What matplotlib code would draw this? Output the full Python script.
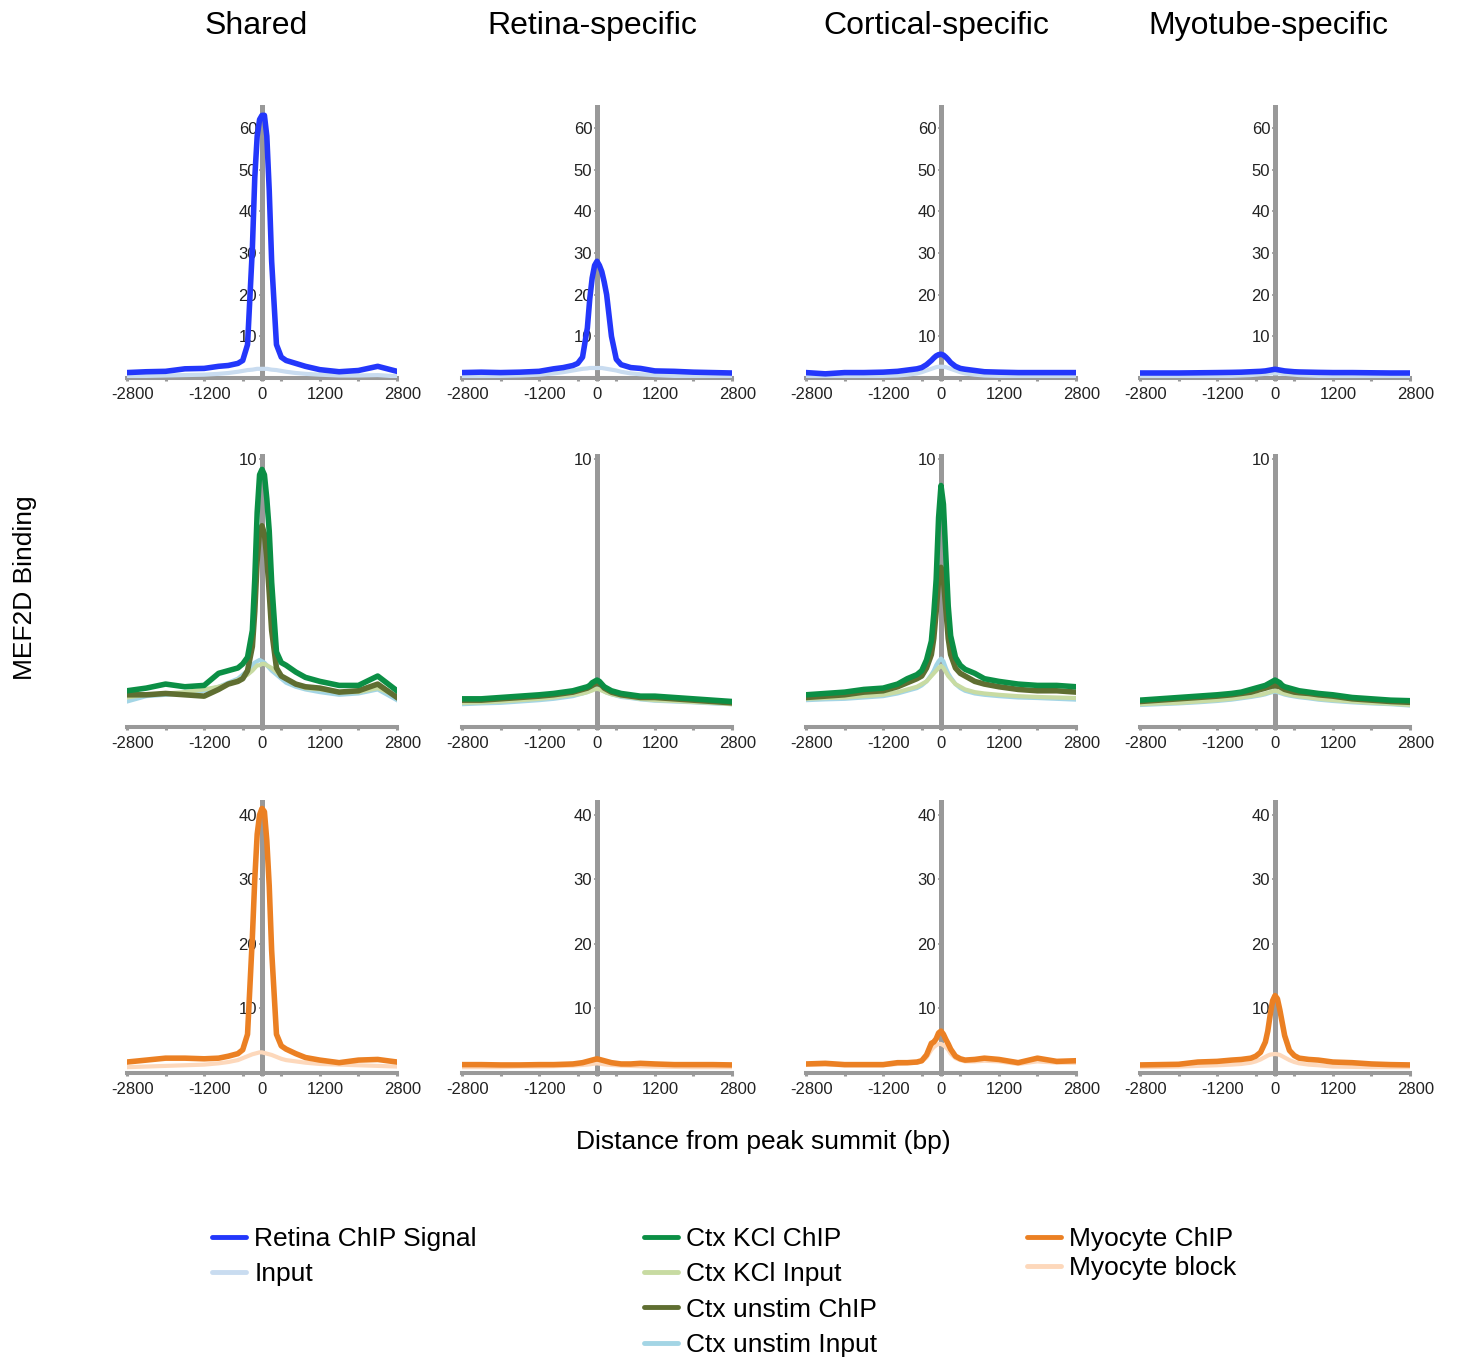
import numpy as np
import matplotlib.pyplot as plt
from matplotlib.lines import Line2D
from matplotlib.transforms import ScaledTranslation

plt.rcParams['font.family'] = ['Liberation Sans', 'DejaVu Sans']

# distance from summit (bp) at which each profile is sampled
x = [-2800, -2400, -2000, -1600, -1200, -900, -700, -500, -400, -300,
     -200, -150, -100, -50, 0, 50, 100, 150, 200,
     300, 400, 500, 700, 900, 1200, 1600, 2000, 2400, 2800]

columns = ['Shared', 'Retina-specific', 'Cortical-specific', 'Myotube-specific']

# each list holds one profile per column: shared, retina, cortical, myotube
retina_chip = [
    [1.3, 1.5, 1.6, 2.2, 2.3, 2.8, 3.0, 3.5, 4.2, 8.0,
     31, 48, 58, 62, 63, 63, 58, 45, 28,
     8.0, 5.0, 4.2, 3.5, 2.8, 2.0, 1.5, 1.8, 2.8, 1.6],
    [1.3, 1.4, 1.3, 1.4, 1.6, 2.2, 2.5, 3.0, 3.5, 5.0,
     12, 19, 24, 27, 28, 27, 25.5, 23, 20,
     10, 4.5, 3.2, 2.5, 2.3, 1.7, 1.6, 1.4, 1.3, 1.2],
    [1.3, 1.0, 1.3, 1.3, 1.4, 1.6, 1.9, 2.2, 2.5, 3.2,
     4.2, 4.8, 5.3, 5.6, 5.7, 5.5, 5.0, 4.4, 3.7,
     2.8, 2.3, 2.1, 1.8, 1.5, 1.4, 1.3, 1.3, 1.3, 1.3],
    [1.2, 1.2, 1.2, 1.25, 1.3, 1.35, 1.4, 1.5, 1.55, 1.6,
     1.7, 1.8, 1.9, 2.0, 2.1, 2.0, 1.9, 1.8, 1.7,
     1.6, 1.5, 1.45, 1.4, 1.35, 1.3, 1.3, 1.25, 1.2, 1.2],
]
retina_input = [
    [0.4, 0.5, 0.6, 0.7, 0.8, 1.0, 1.2, 1.5, 1.7, 1.9,
     2.0, 2.1, 2.2, 2.2, 2.2, 2.2, 2.2, 2.1, 2.0,
     1.9, 1.7, 1.5, 1.2, 1.0, 0.8, 0.6, 0.6, 0.7, 0.4],
    [0.5, 0.5, 0.5, 0.6, 0.8, 1.1, 1.4, 1.8, 2.0, 2.2,
     2.3, 2.4, 2.4, 2.4, 2.4, 2.4, 2.4, 2.3, 2.2,
     2.0, 1.8, 1.5, 1.1, 0.9, 0.7, 0.5, 0.5, 0.5, 0.5],
    [0.4, 0.4, 0.4, 0.4, 0.5, 0.6, 0.8, 1.1, 1.4, 1.8,
     2.2, 2.4, 2.6, 2.7, 2.7, 2.7, 2.6, 2.4, 2.2,
     1.8, 1.4, 1.1, 0.8, 0.6, 0.5, 0.4, 0.4, 0.4, 0.4],
    [0.3, 0.3, 0.3, 0.3, 0.4, 0.5, 0.6, 0.7, 0.8, 0.9,
     1.0, 1.0, 1.1, 1.1, 1.1, 1.1, 1.1, 1.0, 1.0,
     0.9, 0.8, 0.7, 0.6, 0.5, 0.4, 0.3, 0.3, 0.3, 0.3],
]
kcl_chip = [
    [1.35, 1.45, 1.6, 1.5, 1.55, 2.0, 2.1, 2.2, 2.35, 2.6,
     3.6, 5.5, 8.0, 9.4, 9.6, 9.4, 8.5, 7.3, 5.4,
     2.8, 2.4, 2.3, 2.05, 1.85, 1.7, 1.55, 1.55, 1.9, 1.35],
    [1.05, 1.05, 1.1, 1.15, 1.2, 1.25, 1.3, 1.35, 1.4, 1.45,
     1.5, 1.55, 1.65, 1.7, 1.75, 1.7, 1.6, 1.5, 1.45,
     1.35, 1.3, 1.25, 1.2, 1.15, 1.15, 1.1, 1.05, 1.0, 0.95],
    [1.2, 1.25, 1.3, 1.4, 1.45, 1.6, 1.8, 1.95, 2.1, 2.5,
     3.2, 4.2, 5.5, 7.8, 9.0, 8.3, 6.4, 4.5, 3.4,
     2.6, 2.3, 2.15, 2.0, 1.8, 1.7, 1.6, 1.55, 1.55, 1.5],
    [1.0, 1.05, 1.1, 1.15, 1.2, 1.25, 1.3, 1.4, 1.45, 1.5,
     1.55, 1.6, 1.65, 1.7, 1.75, 1.7, 1.65, 1.55, 1.5,
     1.45, 1.4, 1.35, 1.3, 1.25, 1.2, 1.1, 1.05, 1.0, 0.98],
]
kcl_input = [
    [1.1, 1.2, 1.25, 1.3, 1.4, 1.5, 1.6, 1.75, 1.85, 1.95,
     2.1, 2.2, 2.3, 2.3, 2.35, 2.35, 2.3, 2.25, 2.2,
     2.05, 1.9, 1.8, 1.6, 1.45, 1.4, 1.3, 1.3, 1.45, 1.15],
    [0.9, 0.92, 0.95, 1.0, 1.05, 1.1, 1.15, 1.2, 1.22, 1.25,
     1.3, 1.33, 1.36, 1.4, 1.42, 1.4, 1.36, 1.32, 1.28,
     1.22, 1.18, 1.15, 1.1, 1.05, 1.0, 0.97, 0.93, 0.9, 0.85],
    [1.05, 1.08, 1.1, 1.15, 1.2, 1.3, 1.4, 1.5, 1.6, 1.7,
     1.9, 2.0, 2.1, 2.2, 2.28, 2.2, 2.05, 1.9, 1.8,
     1.6, 1.5, 1.4, 1.3, 1.25, 1.2, 1.15, 1.12, 1.1, 1.08],
    [0.85, 0.88, 0.9, 0.95, 1.0, 1.05, 1.1, 1.15, 1.18, 1.2,
     1.25, 1.28, 1.3, 1.33, 1.35, 1.33, 1.3, 1.27, 1.24,
     1.2, 1.17, 1.14, 1.1, 1.05, 1.0, 0.95, 0.9, 0.87, 0.82],
]
unstim_chip = [
    [1.2, 1.2, 1.25, 1.2, 1.15, 1.4, 1.6, 1.7, 1.8, 2.1,
     3.0, 4.3, 6.2, 7.3, 7.5, 7.2, 6.3, 5.0, 3.6,
     2.2, 1.9, 1.8, 1.6, 1.5, 1.45, 1.3, 1.35, 1.6, 1.1],
    [1.0, 1.0, 1.05, 1.1, 1.15, 1.2, 1.25, 1.3, 1.35, 1.4,
     1.45, 1.5, 1.55, 1.6, 1.62, 1.6, 1.55, 1.45, 1.4,
     1.3, 1.25, 1.2, 1.15, 1.1, 1.1, 1.05, 1.0, 0.95, 0.9],
    [1.1, 1.15, 1.2, 1.3, 1.35, 1.5, 1.65, 1.8, 1.9, 2.2,
     2.7, 3.3, 4.3, 5.5, 5.95, 5.5, 4.4, 3.3, 2.7,
     2.2, 2.0, 1.9, 1.7, 1.6, 1.5, 1.4, 1.35, 1.35, 1.3],
    [0.95, 1.0, 1.05, 1.1, 1.15, 1.2, 1.25, 1.3, 1.35, 1.4,
     1.45, 1.48, 1.5, 1.53, 1.55, 1.53, 1.5, 1.45, 1.4,
     1.35, 1.3, 1.28, 1.25, 1.2, 1.15, 1.05, 1.0, 0.95, 0.92],
]
unstim_input = [
    [0.95, 1.15, 1.2, 1.25, 1.35, 1.5, 1.65, 1.8, 1.95, 2.1,
     2.3, 2.4, 2.45, 2.5, 2.45, 2.4, 2.3, 2.2, 2.1,
     1.95, 1.8, 1.65, 1.5, 1.4, 1.3, 1.2, 1.25, 1.4, 1.0],
    [0.85, 0.88, 0.9, 0.95, 1.0, 1.05, 1.1, 1.15, 1.2, 1.25,
     1.3, 1.35, 1.4, 1.43, 1.45, 1.42, 1.38, 1.33, 1.28,
     1.22, 1.17, 1.12, 1.08, 1.03, 0.98, 0.95, 0.92, 0.88, 0.85],
    [1.0, 1.03, 1.05, 1.1, 1.15, 1.25, 1.35, 1.45, 1.55, 1.7,
     1.95, 2.1, 2.3, 2.45, 2.55, 2.45, 2.2, 2.0, 1.85,
     1.6, 1.45, 1.35, 1.25, 1.2, 1.15, 1.1, 1.08, 1.05, 1.02],
    [0.82, 0.85, 0.88, 0.92, 0.97, 1.02, 1.07, 1.12, 1.15, 1.18,
     1.22, 1.25, 1.28, 1.3, 1.32, 1.3, 1.27, 1.24, 1.21,
     1.17, 1.14, 1.11, 1.07, 1.02, 0.97, 0.92, 0.88, 0.85, 0.8],
]
myo_chip = [
    [1.7, 2.0, 2.3, 2.3, 2.2, 2.3, 2.6, 3.0, 3.6, 6.0,
     21, 30, 37, 40, 41, 40.5, 36, 29, 19,
     6.0, 4.2, 3.7, 3.0, 2.4, 2.0, 1.6, 2.0, 2.1, 1.7],
    [1.3, 1.3, 1.25, 1.25, 1.3, 1.3, 1.35, 1.4, 1.5, 1.6,
     1.8, 1.9, 2.0, 2.1, 2.2, 2.1, 2.0, 1.9, 1.8,
     1.6, 1.5, 1.4, 1.4, 1.5, 1.4, 1.3, 1.3, 1.3, 1.25],
    [1.4, 1.5, 1.3, 1.3, 1.3, 1.6, 1.6, 1.7, 1.9, 2.8,
     4.6, 4.8, 5.3, 6.2, 6.5, 6.0, 5.2, 4.5, 3.7,
     2.6, 2.2, 2.0, 2.1, 2.3, 2.1, 1.6, 2.3, 1.8, 1.9],
    [1.25, 1.3, 1.35, 1.7, 1.8, 2.0, 2.1, 2.3, 2.6, 3.2,
     4.8, 6.5, 9.0, 11.2, 12.0, 11.5, 9.8, 7.8, 5.8,
     3.5, 2.7, 2.3, 2.1, 2.0, 1.7, 1.6, 1.4, 1.3, 1.25],
]
myo_block = [
    [0.9, 1.0, 1.1, 1.2, 1.3, 1.5, 1.7, 2.0, 2.3, 2.6,
     2.9, 3.0, 3.1, 3.2, 3.2, 3.1, 3.0, 2.9, 2.8,
     2.5, 2.2, 2.0, 1.8, 1.6, 1.4, 1.3, 1.2, 1.1, 1.0],
    [0.9, 0.9, 0.9, 1.0, 1.0, 1.05, 1.1, 1.15, 1.2, 1.25,
     1.3, 1.35, 1.4, 1.45, 1.5, 1.45, 1.4, 1.35, 1.3,
     1.25, 1.2, 1.15, 1.1, 1.05, 1.0, 0.95, 0.9, 0.9, 0.9],
    [1.3, 1.3, 1.2, 1.2, 1.2, 1.4, 1.5, 1.6, 1.8, 2.4,
     3.6, 4.0, 4.3, 4.5, 4.5, 4.3, 4.0, 3.6, 3.0,
     2.3, 2.0, 1.8, 1.8, 1.9, 1.8, 1.4, 1.8, 1.6, 1.6],
    [0.9, 0.95, 1.0, 1.1, 1.2, 1.3, 1.4, 1.6, 1.8, 2.1,
     2.5, 2.7, 2.85, 2.9, 2.95, 2.9, 2.8, 2.6, 2.4,
     2.0, 1.7, 1.5, 1.3, 1.2, 1.0, 0.95, 0.9, 0.9, 0.9],
]

xticks = [-2800, -2000, -1200, -400, 0, 400, 1200, 2000, 2800]
xticklabels = ['-2800', '', '-1200', '', '0', '', '1200', '', '2800']

gray = '#999999'
c_ret, c_inp = '#2337fb', '#c9dcf0'
c_kcl, c_kcl_in = '#0b8f45', '#c8dba2'
c_uns, c_uns_in = '#5f6e31', '#a3d5e5'
c_myo, c_blk = '#eb8023', '#fdd8bb'

# (series, colour, linewidth) drawn bottom to top
rows = [
    dict(ylim=65, yticks=[10, 20, 30, 40, 50, 60],
         lines=[(retina_input, c_inp, 3.0), (retina_chip, c_ret, 4.0)]),
    dict(ylim=10.1, yticks=[10],
         lines=[(unstim_input, c_uns_in, 3.0), (kcl_input, c_kcl_in, 3.0),
                (unstim_chip, c_uns, 4.0), (kcl_chip, c_kcl, 4.0)]),
    dict(ylim=42, yticks=[10, 20, 30, 40],
         lines=[(myo_block, c_blk, 3.0), (myo_chip, c_myo, 4.0)]),
]

W, H = 1458, 1359
fig = plt.figure(figsize=(W / 100, H / 100), dpi=100)

col_left = [127, 462, 806, 1140]
row_top = [107, 456, 802]
pw, ph = 270, 271

# nudge the non-zero distance labels a little to the right
nudge = ScaledTranslation(0.055, 0, fig.dpi_scale_trans)

for r, row in enumerate(rows):
    for c in range(4):
        ax = fig.add_axes([col_left[c] / W, 1 - (row_top[r] + ph) / H, pw / W, ph / H])
        for series, color, lw in row['lines']:
            ax.plot(x, series[c], color=color, lw=lw, zorder=3,
                    solid_joinstyle='round')
        ax.set_xlim(-2800, 2800)
        ax.set_ylim(0, row['ylim'])
        ax.spines['top'].set_visible(False)
        ax.spines['right'].set_visible(False)
        ax.spines['left'].set_position(('data', 0))
        ax.spines['left'].set_color(gray)
        ax.spines['left'].set_linewidth(3.6)
        ax.spines['bottom'].set_color(gray)
        ax.spines['bottom'].set_linewidth(2.9)
        ax.set_xticks(xticks)
        ax.set_xticklabels(xticklabels)
        ax.set_yticks(row['yticks'])
        ax.tick_params(axis='x', direction='out', length=2.5, width=2.2,
                       color=gray, labelsize=12, labelcolor='#222222', pad=4)
        ax.tick_params(axis='y', direction='out', length=2.5, width=1.2,
                       color=gray, labelsize=12, labelcolor='#222222', pad=1)
        for lab in ax.get_xticklabels():
            if lab.get_text() not in ('', '0'):
                lab.set_transform(lab.get_transform() + nudge)
        ax.patch.set_alpha(0)

title_x = [256, 592, 936, 1268]
for name, tx in zip(columns, title_x):
    fig.text(tx / W, 1 - 26 / H, name, ha='center', va='center', fontsize=23)

fig.text(25 / W, 1 - 588 / H, 'MEF2D Binding', rotation=90,
         ha='center', va='center', fontsize=19)
fig.text(763 / W, 1 - 1142 / H, 'Distance from peak summit (bp)',
         ha='center', va='center', fontsize=19)


def handle(color):
    return Line2D([], [], color=color, lw=3.5, solid_capstyle='round')


legend_groups = [
    (212, [c_ret, c_inp], ['Retina ChIP Signal', 'Input'], 0.43),
    (644, [c_kcl, c_kcl_in, c_uns, c_uns_in],
     ['Ctx KCl ChIP', 'Ctx KCl Input', 'Ctx unstim ChIP', 'Ctx unstim Input'], 0.43),
    (1027, [c_myo, c_blk], ['Myocyte ChIP', 'Myocyte block'], 0.18),
]
for lx, cols, labels, spacing in legend_groups:
    leg = fig.legend([handle(col) for col in cols], labels, loc='upper left',
                     bbox_to_anchor=(lx / W, 1 - 1227 / H), frameon=False,
                     fontsize=19, handlelength=1.3, handletextpad=0.3,
                     labelspacing=spacing, borderpad=0, borderaxespad=0)

fig.savefig('out.png', dpi=100)
